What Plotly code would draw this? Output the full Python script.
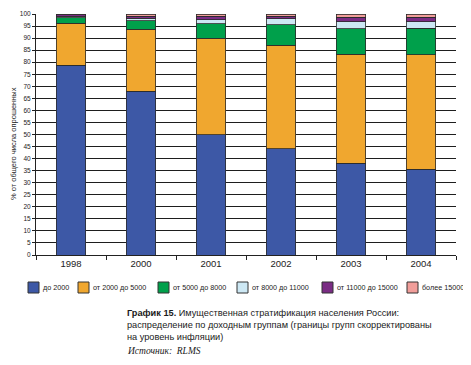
import plotly.graph_objects as go

years = ["1998", "2000", "2001", "2002", "2003", "2004"]
groups = ["до 2000", "от 2000 до 5000", "от 5000 до 8000",
          "от 8000 до 11000", "от 11000 до 15000", "более 15000"]
v_lt2000 = [78.7, 68.0, 50.0, 44.0, 38.0, 35.5]
v_2000_5000 = [17.5, 25.7, 40.0, 43.0, 45.3, 47.5]
v_5000_8000 = [2.2, 3.5, 5.9, 8.5, 10.6, 11.0]
v_8000_11000 = [0.6, 1.0, 1.7, 2.5, 2.8, 2.8]
v_11000_15000 = [0.7, 0.8, 1.4, 1.0, 2.0, 1.8]
v_gt15000 = [0.3, 1.0, 1.0, 1.0, 1.3, 1.2]
y_ticks = list(range(0, 101, 5))

series = [v_lt2000, v_2000_5000, v_5000_8000, v_8000_11000, v_11000_15000, v_gt15000]
colors = ["#3D58A6", "#F0A72F", "#00A04B", "#CDE8F4", "#7A2C84", "#F19E9A"]

# page body has an 8px margin: the figure is drawn 8px smaller and every
# page position below is given in page pixels and converted.
OFF = 8
W, H = 471 - OFF, 365 - OFF
ML, MR, MT, MB = 36 - OFF, 15, 14 - OFF, 110
PW, PH = W - ML - MR, H - MT - MB


def px2x(px):
    return (px - OFF - ML) / PW


def py2y(py):
    return (H - MB - (py - OFF)) / PH


fig = go.Figure()
for name, vals, col in zip(groups, series, colors):
    fig.add_trace(go.Bar(
        x=years, y=vals, name=name,
        marker=dict(color=col, line=dict(color="#2a2a2a", width=0.8)),
        showlegend=False,
    ))

# custom legend
leg_left = [28, 78, 158, 237, 322, 407]
shapes = []
annotations = []
for lx, name, col in zip(leg_left, groups, colors):
    shapes.append(dict(type="rect", xref="paper", yref="paper",
                       x0=px2x(lx), x1=px2x(lx + 11), y0=py2y(293), y1=py2y(282),
                       fillcolor=col, line=dict(color="#333333", width=1)))
    annotations.append(dict(text=name, xref="paper", yref="paper",
                            x=px2x(lx + 13), y=py2y(287.5), xanchor="left", yanchor="middle",
                            showarrow=False, font=dict(size=7.2, color="#222222")))

# y axis title
annotations.append(dict(text="% от общего числа опрошенных", xref="paper", yref="paper",
                        x=px2x(13), y=py2y(144), xanchor="center", yanchor="middle",
                        textangle=-90, showarrow=False,
                        font=dict(size=7.5, color="#222222")))

# caption
annotations.append(dict(
    text="<b>График 15.</b> Имущественная стратификация населения России:<br>"
         "распределение по доходным группам (границы групп скорректированы<br>"
         "на уровень инфляции)",
    xref="paper", yref="paper", x=px2x(125), y=py2y(306), xanchor="left", yanchor="top",
    align="left", showarrow=False,
    font=dict(size=9.2, color="#1a1a1a", family="Liberation Sans, Arial, sans-serif")))
annotations.append(dict(
    text="<i>Источник:  RLMS</i>",
    xref="paper", yref="paper", x=px2x(125), y=py2y(351), xanchor="left", yanchor="middle",
    align="left", showarrow=False,
    font=dict(size=9.5, color="#1a1a1a", family="Liberation Serif, Times New Roman, serif")))

fig.update_layout(
    width=W, height=H,
    margin=dict(l=ML, r=MR, t=MT, b=MB, pad=0, autoexpand=False),
    barmode="stack", bargap=0.585,
    plot_bgcolor="white", paper_bgcolor="white",
    font=dict(family="Liberation Sans, Arial, sans-serif", color="#222222"),
    shapes=shapes, annotations=annotations,
    xaxis=dict(showline=True, linecolor="#222222", linewidth=1, automargin=False,
               ticks="outside", ticklen=4, tickcolor="#222222",
               tickson="boundaries", showgrid=False,
               tickfont=dict(size=9.5, color="#222222")),
    yaxis=dict(range=[0, 100], tickvals=y_ticks, ticktext=[str(t) for t in y_ticks],
               showline=True, linecolor="#222222", linewidth=1, automargin=False,
               ticks="outside", ticklen=3, tickcolor="#222222",
               showgrid=True, gridcolor="#1e1e1e", gridwidth=1,
               zeroline=False,
               tickfont=dict(size=6.5, color="#222222",
                             family="Liberation Sans Narrow, Arial Narrow, Liberation Sans, sans-serif")),
)

fig.write_html("out.html")
